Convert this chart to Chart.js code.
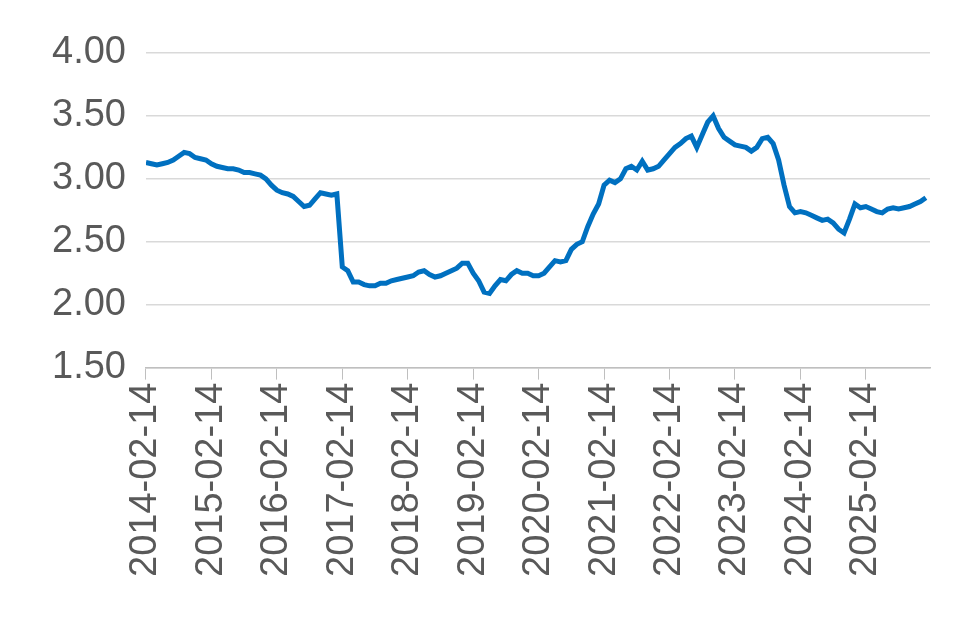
<!DOCTYPE html>
<html>
<head>
<meta charset="utf-8">
<script src="https://cdn.jsdelivr.net/npm/chart.js@4"></script>
<style>
  html, body { margin: 0; padding: 0; background: #fff; }
  #wrap { width: 980px; height: 626px; }
</style>
</head>
<body>
<div id="wrap"><canvas id="chart"></canvas></div>
<script>
// monthly values starting 2014-02
const startYear = 2014;
const tickLabels = ["2014-02-14", "2015-02-14", "2016-02-14", "2017-02-14", "2018-02-14", "2019-02-14",
    "2020-02-14", "2021-02-14", "2022-02-14", "2023-02-14", "2024-02-14", "2025-02-14"];
const values2014 = [3.13, 3.12, 3.11, 3.12, 3.13, 3.15, 3.18, 3.21, 3.20, 3.17, 3.16, 3.15];
const values2015 = [3.12, 3.10, 3.09, 3.08, 3.08, 3.07, 3.05, 3.05, 3.04, 3.03, 3.00, 2.95];
const values2016 = [2.91, 2.89, 2.88, 2.86, 2.82, 2.78, 2.79, 2.84, 2.89, 2.88, 2.87, 2.88];
const values2017 = [2.30, 2.27, 2.18, 2.18, 2.16, 2.15, 2.15, 2.17, 2.17, 2.19, 2.20, 2.21];
const values2018 = [2.22, 2.23, 2.26, 2.27, 2.24, 2.22, 2.23, 2.25, 2.27, 2.29, 2.33, 2.33];
const values2019 = [2.25, 2.19, 2.10, 2.09, 2.15, 2.20, 2.19, 2.24, 2.27, 2.25, 2.25, 2.23];
const values2020 = [2.23, 2.25, 2.30, 2.35, 2.34, 2.35, 2.44, 2.48, 2.50, 2.62, 2.72, 2.80];
const values2021 = [2.95, 2.99, 2.97, 3.00, 3.08, 3.10, 3.07, 3.14, 3.07, 3.08, 3.10, 3.15];
const values2022 = [3.20, 3.25, 3.28, 3.32, 3.34, 3.25, 3.35, 3.45, 3.50, 3.40, 3.33, 3.30];
const values2023 = [3.27, 3.26, 3.25, 3.22, 3.25, 3.32, 3.33, 3.28, 3.15, 2.95, 2.78, 2.73];
const values2024 = [2.74, 2.73, 2.71, 2.69, 2.67, 2.68, 2.65, 2.60, 2.57, 2.68, 2.80, 2.77];
const values2025 = [2.78, 2.76, 2.74, 2.73, 2.76, 2.77, 2.76, 2.77, 2.78, 2.80, 2.82, 2.85];

let series = [].concat(values2014, values2015, values2016, values2017, values2018, values2019,
    values2020, values2021, values2022, values2023, values2024, values2025);
let points = series.map((v, i) => ({x: i / 12, y: v}));

let font = {family: "Liberation Sans, Arial, sans-serif", size: 38};
let ctx = document.getElementById("chart").getContext("2d");
let chart = new Chart(ctx, {
    type: "line",
    data: {
        datasets: [{
            data: points,
            borderColor: "#0070C0",
            borderWidth: 5,
            pointRadius: 0,
            tension: 0
        }]
    },
    options: {
        responsive: true,
        maintainAspectRatio: false,
        animation: false,
        layout: {padding: {top: 53, right: 50, left: 32, bottom: 46}},
        plugins: {legend: {display: false}, tooltip: {enabled: false}},
        scales: {
            x: {
                type: "linear",
                min: 0,
                max: 11.98,
                afterBuildTicks: function(axis) {
                    axis.ticks = tickLabels.map((t, i) => ({value: i}));
                },
                ticks: {
                    font: font,
                    color: "#595959",
                    maxRotation: 90,
                    minRotation: 90,
                    autoSkip: false,
                    callback: function(v) { return tickLabels[Math.round(v)]; }
                },
                grid: {display: true, drawOnChartArea: false, drawTicks: true, tickLength: 12, color: "#BFBFBF"},
                border: {display: true, color: "#BFBFBF", width: 1.5}
            },
            y: {
                min: 1.5,
                max: 4.0,
                ticks: {
                    stepSize: 0.5,
                    font: font,
                    color: "#595959",
                    padding: 20,
                    callback: function(v) { return v.toFixed(2); }
                },
                grid: {color: "#D9D9D9", lineWidth: 1.5, drawTicks: false},
                border: {display: false}
            }
        }
    }
});
</script>
</body>
</html>
